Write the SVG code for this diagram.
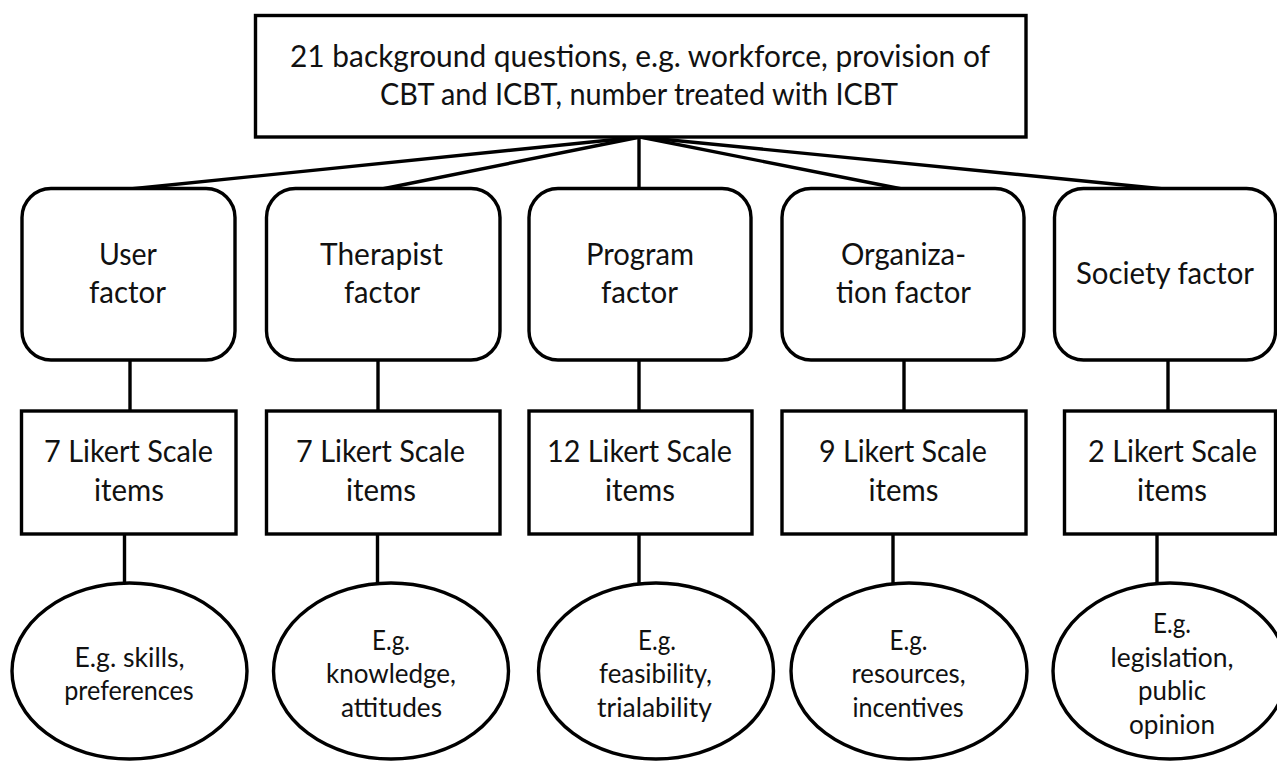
<svg xmlns="http://www.w3.org/2000/svg" width="1277" height="763" viewBox="0 0 1277 763">
  <style>
    .shape { fill: #ffffff; stroke: #000000; stroke-width: 3.4; }
    .link { stroke: #000000; stroke-width: 3.4; fill: none; }
    text { font-family: Lato, "Open Sans", "Liberation Sans", sans-serif; fill: #111111; text-anchor: middle; }
    .big { font-size: 30.5px; }
    .small { font-size: 26px; }
  </style>
  <rect width="1277" height="763" fill="#ffffff"/>

  <!-- connectors -->
  <g id="connectors">
    <line class="link" x1="640" y1="137" x2="130" y2="189"/>
    <line class="link" x1="640" y1="137" x2="382" y2="189"/>
    <line class="link" x1="639" y1="137" x2="639" y2="189"/>
    <line class="link" x1="640" y1="137" x2="902" y2="189"/>
    <line class="link" x1="640" y1="137" x2="1164" y2="189"/>

    <line class="link" x1="130" y1="360" x2="130" y2="411"/>
    <line class="link" x1="378" y1="360" x2="378" y2="411"/>
    <line class="link" x1="639" y1="360" x2="639" y2="411"/>
    <line class="link" x1="904" y1="360" x2="904" y2="411"/>
    <line class="link" x1="1168" y1="360" x2="1168" y2="411"/>

    <line class="link" x1="124.5" y1="534" x2="124.5" y2="583"/>
    <line class="link" x1="377.5" y1="534" x2="377.5" y2="583"/>
    <line class="link" x1="639" y1="534" x2="639" y2="583"/>
    <line class="link" x1="893" y1="534" x2="893" y2="583"/>
    <line class="link" x1="1157" y1="534" x2="1157" y2="583"/>
  </g>

  <!-- root -->
  <g id="background">
    <rect class="shape" x="255.5" y="15.5" width="770.5" height="121.5"/>
    <text class="big" x="640" y="67" textLength="700" lengthAdjust="spacingAndGlyphs">21 background questions, e.g. workforce, provision of</text>
    <text class="big" x="639" y="105" textLength="518" lengthAdjust="spacingAndGlyphs">CBT and ICBT, number treated with ICBT</text>
  </g>

  <!-- factor level -->
  <g id="user-factor">
    <rect class="shape" x="22" y="188.5" width="213" height="171.5" rx="29" ry="29"/>
    <text class="big" x="128" y="265" textLength="58" lengthAdjust="spacingAndGlyphs">User</text>
    <text class="big" x="127.5" y="303" textLength="77" lengthAdjust="spacingAndGlyphs">factor</text>
  </g>
  <g id="therapist-factor">
    <rect class="shape" x="266.5" y="188.5" width="233.5" height="171.5" rx="29" ry="29"/>
    <text class="big" x="381.5" y="265" textLength="123" lengthAdjust="spacingAndGlyphs">Therapist</text>
    <text class="big" x="382" y="303" textLength="76" lengthAdjust="spacingAndGlyphs">factor</text>
  </g>
  <g id="program-factor">
    <rect class="shape" x="529" y="188.5" width="222" height="171.5" rx="29" ry="29"/>
    <text class="big" x="640" y="265" textLength="108" lengthAdjust="spacingAndGlyphs">Program</text>
    <text class="big" x="639.5" y="303" textLength="77" lengthAdjust="spacingAndGlyphs">factor</text>
  </g>
  <g id="organization-factor">
    <rect class="shape" x="782" y="188.5" width="242" height="171.5" rx="29" ry="29"/>
    <text class="big" x="903.5" y="265" textLength="125" lengthAdjust="spacingAndGlyphs">Organiza-</text>
    <text class="big" x="903.5" y="303" textLength="135" lengthAdjust="spacingAndGlyphs">tion factor</text>
  </g>
  <g id="society-factor">
    <rect class="shape" x="1054.5" y="188.5" width="221" height="171.5" rx="29" ry="29"/>
    <text class="big" x="1165" y="284" textLength="178" lengthAdjust="spacingAndGlyphs">Society factor</text>
  </g>

  <!-- item counts -->
  <g id="user-items">
    <rect class="shape" x="21.5" y="411" width="214.5" height="123"/>
    <text class="big" x="128.5" y="462" textLength="169" lengthAdjust="spacingAndGlyphs">7 Likert Scale</text>
    <text class="big" x="129" y="501" textLength="70" lengthAdjust="spacingAndGlyphs">items</text>
  </g>
  <g id="therapist-items">
    <rect class="shape" x="266.5" y="411" width="233.5" height="123"/>
    <text class="big" x="380.5" y="462" textLength="169" lengthAdjust="spacingAndGlyphs">7 Likert Scale</text>
    <text class="big" x="381" y="501" textLength="70" lengthAdjust="spacingAndGlyphs">items</text>
  </g>
  <g id="program-items">
    <rect class="shape" x="529" y="411" width="223" height="123"/>
    <text class="big" x="639.5" y="462" textLength="185" lengthAdjust="spacingAndGlyphs">12 Likert Scale</text>
    <text class="big" x="640" y="501" textLength="70" lengthAdjust="spacingAndGlyphs">items</text>
  </g>
  <g id="organization-items">
    <rect class="shape" x="782" y="411" width="244" height="123"/>
    <text class="big" x="903" y="462" textLength="168" lengthAdjust="spacingAndGlyphs">9 Likert Scale</text>
    <text class="big" x="903.5" y="501" textLength="70" lengthAdjust="spacingAndGlyphs">items</text>
  </g>
  <g id="society-items">
    <rect class="shape" x="1064.5" y="411" width="211" height="123"/>
    <text class="big" x="1172.5" y="462" textLength="169" lengthAdjust="spacingAndGlyphs">2 Likert Scale</text>
    <text class="big" x="1172" y="501" textLength="70" lengthAdjust="spacingAndGlyphs">items</text>
  </g>

  <!-- examples -->
  <g id="user-examples">
    <ellipse class="shape" cx="129.5" cy="671" rx="117.5" ry="88"/>
    <text class="small" x="129.5" y="667" textLength="110" lengthAdjust="spacingAndGlyphs">E.g. skills,</text>
    <text class="small" x="129" y="700" textLength="129.5" lengthAdjust="spacingAndGlyphs">preferences</text>
  </g>
  <g id="therapist-examples">
    <ellipse class="shape" cx="391" cy="671" rx="117.5" ry="88"/>
    <text class="small" x="391" y="650" textLength="38" lengthAdjust="spacingAndGlyphs">E.g.</text>
    <text class="small" x="391" y="683" textLength="130" lengthAdjust="spacingAndGlyphs">knowledge,</text>
    <text class="small" x="391.5" y="717" textLength="101" lengthAdjust="spacingAndGlyphs">attitudes</text>
  </g>
  <g id="program-examples">
    <ellipse class="shape" cx="656" cy="671" rx="117.5" ry="88"/>
    <text class="small" x="657" y="650" textLength="38" lengthAdjust="spacingAndGlyphs">E.g.</text>
    <text class="small" x="655.5" y="683" textLength="113" lengthAdjust="spacingAndGlyphs">feasibility,</text>
    <text class="small" x="654.5" y="717" textLength="115" lengthAdjust="spacingAndGlyphs">trialability</text>
  </g>
  <g id="organization-examples">
    <ellipse class="shape" cx="909" cy="671" rx="118" ry="88"/>
    <text class="small" x="908.5" y="650" textLength="38" lengthAdjust="spacingAndGlyphs">E.g.</text>
    <text class="small" x="908.5" y="683" textLength="114" lengthAdjust="spacingAndGlyphs">resources,</text>
    <text class="small" x="908" y="717" textLength="111" lengthAdjust="spacingAndGlyphs">incentives</text>
  </g>
  <g id="society-examples">
    <ellipse class="shape" cx="1170" cy="671" rx="117" ry="88"/>
    <text class="small" x="1172" y="633" textLength="38" lengthAdjust="spacingAndGlyphs">E.g.</text>
    <text class="small" x="1172" y="667" textLength="123" lengthAdjust="spacingAndGlyphs">legislation,</text>
    <text class="small" x="1172" y="700" textLength="68" lengthAdjust="spacingAndGlyphs">public</text>
    <text class="small" x="1172" y="734" textLength="86" lengthAdjust="spacingAndGlyphs">opinion</text>
  </g>
</svg>
